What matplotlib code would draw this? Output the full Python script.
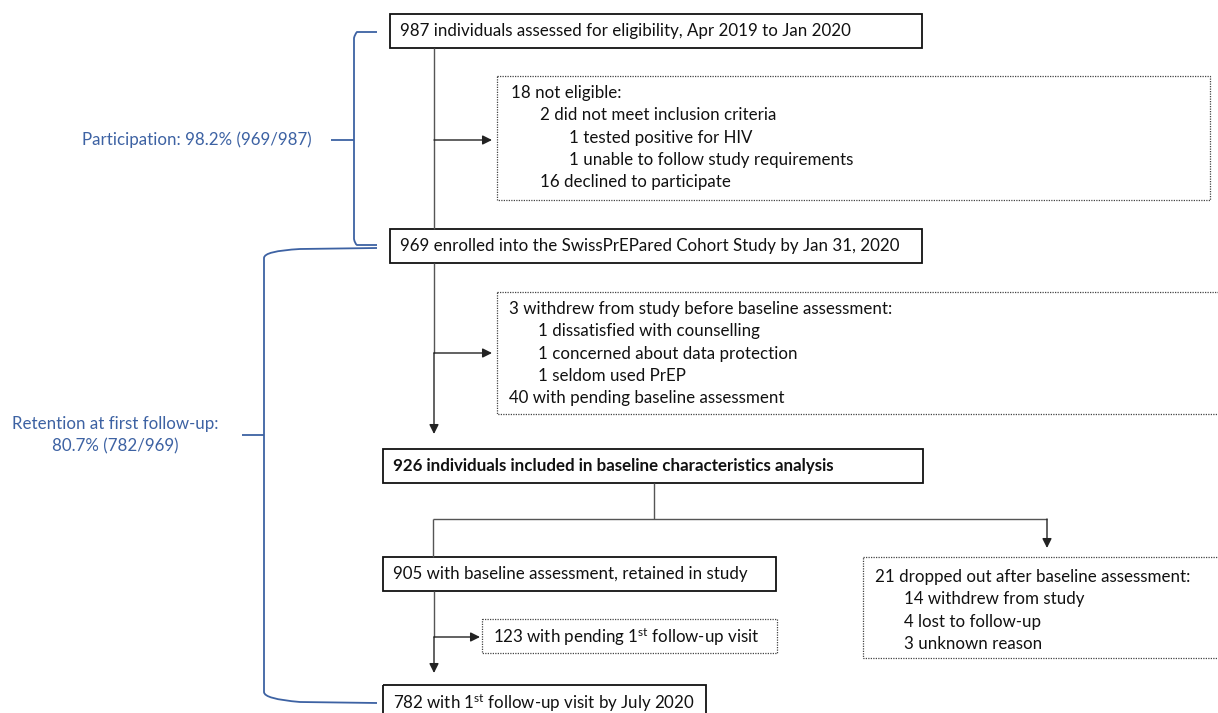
import matplotlib
matplotlib.use("Agg")
import matplotlib.pyplot as plt
from matplotlib.patches import Rectangle, PathPatch
from matplotlib.path import Path

plt.rcParams['font.family'] = ['Lato', 'DejaVu Sans']
plt.rcParams['mathtext.fontset'] = 'custom'
plt.rcParams['mathtext.rm'] = 'Lato'
plt.rcParams['mathtext.it'] = 'Lato:italic'
plt.rcParams['mathtext.bf'] = 'Lato:bold'

# ---- content ----
box_assessed = "987 individuals assessed for eligibility, Apr 2019 to Jan 2020"
excl_eligible = [("18 not eligible:", 0), ("2 did not meet inclusion criteria", 1),
                 ("1 tested positive for HIV", 2), ("1 unable to follow study requirements", 2),
                 ("16 declined to participate", 1)]
box_enrolled = "969 enrolled into the SwissPrEPared Cohort Study by Jan 31, 2020"
excl_withdrew = [("3 withdrew from study before baseline assessment:", 0),
                 ("1 dissatisfied with counselling", 1), ("1 concerned about data protection", 1),
                 ("1 seldom used PrEP", 1), ("40 with pending baseline assessment", 0)]
box_baseline = "926 individuals included in baseline characteristics analysis"
box_retained = "905 with baseline assessment, retained in study"
box_pending = r"123 with pending 1$^{\mathrm{st}}$ follow-up visit"
box_followup = r"782 with 1$^{\mathrm{st}}$ follow-up visit by July 2020"
excl_dropped = [("21 dropped out after baseline assessment:", 0), ("14 withdrew from study", 1),
                ("4 lost to follow-up", 1), ("3 unknown reason", 1)]
label_participation = "Participation: 98.2% (969/987)"
label_retention = "Retention at first follow-up:\n80.7% (782/969)"

W, H = 1218, 713
fig = plt.figure(figsize=(W / 100, H / 100), dpi=100)
ax = fig.add_axes([0, 0, 1, 1])
ax.set_xlim(0, W)
ax.set_ylim(H, 0)
ax.axis('off')

FS = 12.2
BLUE = '#3d62a3'
GRAY = '#555555'
INDENT = 29
LINE_H = 22.3


def solid_box(x0, y0, x1, y1, text, bold=False, tx=None):
    ax.add_patch(Rectangle((x0, y0), x1 - x0, y1 - y0, fill=False, ec='#111111', lw=1.3))
    ax.text(tx if tx else x0 + 10, (y0 + y1) / 2, text, fontsize=FS, va='center', ha='left',
            fontweight='bold' if bold else 'normal', color='#111111')


def dotted_box(x0, y0, x1, y1, lines, tx, ty):
    ax.add_patch(Rectangle((x0, y0), x1 - x0, y1 - y0, fill=False, ec='#444444', lw=0.9,
                           ls=(0, (1, 1))))
    for i, (t, lvl) in enumerate(lines):
        ax.text(tx + lvl * INDENT, ty + i * LINE_H, t, fontsize=FS, va='center', ha='left',
                color='#111111')


def line(xs, ys, color=GRAY, lw=1.0):
    ax.plot(xs, ys, color=color, lw=lw, solid_capstyle='butt')


def arrow(x0, y0, x1, y1):
    ax.annotate('', xy=(x1, y1), xytext=(x0, y0),
                arrowprops=dict(arrowstyle='-|>', color='#222222', lw=1.0,
                                mutation_scale=14, shrinkA=0, shrinkB=0))


# boxes
solid_box(390, 14, 922, 48, box_assessed)
dotted_box(497, 76, 1210, 200, excl_eligible, 511, 93)
solid_box(390, 229, 922, 263, box_enrolled)
dotted_box(497, 292, 1221, 414, excl_withdrew, 509, 309)
solid_box(383, 449, 923, 483, box_baseline, bold=True)
solid_box(383, 557, 776, 591, box_retained)
dotted_box(482, 619, 777, 653, [(box_pending, 0)], 493, 637)
solid_box(383, 685, 706, 722, box_followup)
dotted_box(863, 557, 1225, 658, excl_dropped, 875, 577)

# connectors
line([434, 434], [48, 229])
arrow(434, 140, 492, 140)
line([434, 434], [263, 353])
arrow(434, 353, 492, 353)
arrow(434, 353, 434, 434)
line([654, 654], [483, 519])
line([433, 1047], [519, 519])
line([433, 433], [519, 557])
arrow(1047, 519, 1047, 548)
line([434, 434], [591, 637])
arrow(434, 637, 480, 637)
arrow(434, 637, 434, 673)

# blue brackets
p1 = Path([(377, 32), (357, 32), (355, 34), (354, 38), (354, 239), (355, 244), (357, 245), (377, 245)],
          [Path.MOVETO, Path.LINETO, Path.CURVE3, Path.CURVE3, Path.LINETO, Path.CURVE3, Path.CURVE3, Path.LINETO])
ax.add_patch(PathPatch(p1, fill=False, ec=BLUE, lw=1.3))
line([331, 354], [140, 140], color=BLUE, lw=1.3)
ax.text(312, 140, label_participation, fontsize=FS, color=BLUE, ha='right', va='center')

p2 = Path([(377, 248), (300, 249), (264, 251), (264, 258), (264, 692), (264, 699), (300, 702), (377, 703)],
          [Path.MOVETO, Path.LINETO, Path.CURVE3, Path.CURVE3, Path.LINETO, Path.CURVE3, Path.CURVE3, Path.LINETO])
ax.add_patch(PathPatch(p2, fill=False, ec=BLUE, lw=1.3))
line([242, 264], [435, 435], color=BLUE, lw=1.3)
ax.text(115, 435, label_retention, fontsize=FS, color=BLUE, ha='center', va='center',
        linespacing=1.45)

fig.savefig('out.png', dpi=100)
